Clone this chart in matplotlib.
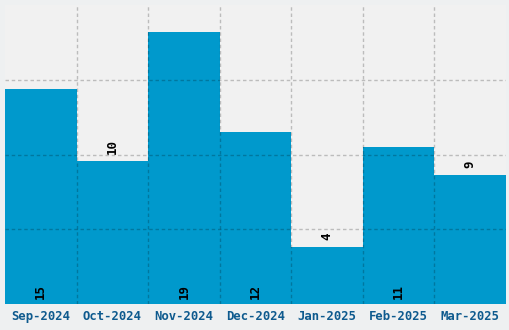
import matplotlib.pyplot as plt
import numpy as np

months = ["Sep-2024", "Oct-2024", "Nov-2024", "Dec-2024", "Jan-2025", "Feb-2025", "Mar-2025"]
counts = [15, 10, 19, 12, 4, 11, 9]
label_inside = [True, False, True, True, False, True, False]

bar_color = "#0099cc"
tick_color = "#0e5a8e"

fig = plt.figure(figsize=(5.1, 3.3), dpi=100)
fig.patch.set_facecolor("#eef0f1")
ax = fig.add_axes([5 / 510, 26 / 330, 501 / 510, 299 / 330])
ax.set_facecolor("#f1f1f1")

x = np.arange(len(months))
ax.bar(x, counts, width=1.0, color=bar_color, zorder=1)

ymax = max(counts) * 1.1
ax.set_xlim(-0.5, len(months) - 0.5)
ax.set_ylim(0, ymax)

# grid: vertical lines between bars, 3 inner horizontal lines (4 bands)
ax.set_xticks(x)
ax.set_xticks(x[:-1] + 0.5, minor=True)
ax.set_yticks(np.linspace(0, ymax, 5)[1:-1])
ax.grid(False)
grid_kw = dict(color="black", alpha=0.22, linestyle=(0, (2.5, 2)), linewidth=1, zorder=3)
ax.xaxis.grid(True, which="minor", **grid_kw)
ax.yaxis.grid(True, which="major", **grid_kw)
ax.set_axisbelow(False)

ax.set_xticklabels(months, fontfamily="DejaVu Sans Mono", fontweight="bold",
                   fontsize=8.8, color=tick_color)
ax.set_yticklabels([])
ax.tick_params(axis="both", which="both", length=0, pad=4)
for s in ax.spines.values():
    s.set_visible(False)

# value labels
px = ymax / 299
for xi, v, inside in zip(x, counts, label_inside):
    y = 5 * px if inside else v + 7 * px
    ax.text(xi, y, str(v), rotation=90, ha="center", va="bottom",
            fontfamily="DejaVu Sans Mono", fontweight="bold", fontsize=9,
            color="black", zorder=4)

fig.savefig("out.png", dpi=100, facecolor=fig.get_facecolor())
